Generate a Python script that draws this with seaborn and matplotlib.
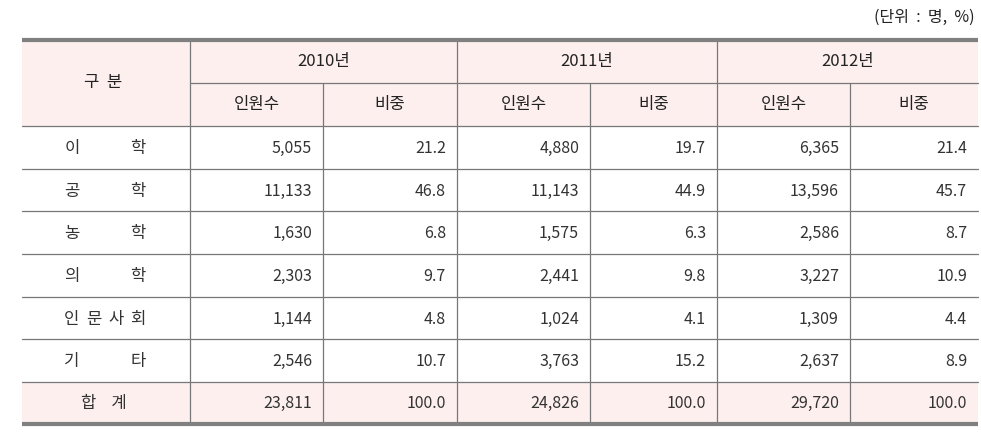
import matplotlib
matplotlib.use("Agg")
import matplotlib.pyplot as plt
import seaborn as sns
import pandas as pd

# ---- data ----
categories = ["이학", "공학", "농학", "의학", "인문사회", "기타"]
years = ["2010년", "2011년", "2012년"]
sub_headers = ["인원수", "비중"]
count_2010 = [5055, 11133, 1630, 2303, 1144, 2546]
share_2010 = [21.2, 46.8, 6.8, 9.7, 4.8, 10.7]
count_2011 = [4880, 11143, 1575, 2441, 1024, 3763]
share_2011 = [19.7, 44.9, 6.3, 9.8, 4.1, 15.2]
count_2012 = [6365, 13596, 2586, 3227, 1309, 2637]
share_2012 = [21.4, 45.7, 8.7, 10.9, 4.4, 8.9]
total_label = "합  계"
total_counts = [23811, 24826, 29720]
total_shares = [100.0, 100.0, 100.0]
corner_label = "구 분"
unit_label = "(단위 : 명, %)"

sns.set_theme(style="white")
plt.rcParams["font.family"] = ["Noto Sans CJK KR", "DejaVu Sans"]

df = pd.DataFrame({
    "cat": categories,
    "c2010": count_2010, "s2010": share_2010,
    "c2011": count_2011, "s2011": share_2011,
    "c2012": count_2012, "s2012": share_2012,
})

fig = plt.figure(figsize=(9.81, 4.44), dpi=100)
ax = fig.add_axes([0, 0, 1, 1])
ax.set_xlim(0, 981)
ax.set_ylim(444, 0)
ax.axis("off")

# layout (pixels)
col_edges = [22, 190, 323, 457, 590, 717, 850, 978]
top = 40
h1 = 83
h2 = 126
row_h = 42.67
n = len(categories)
body_bottom = h2 + n * row_h
bottom = 424

header_bg = "#fcefee"
line_c = "#777777"
thick_c = "#808080"
txt_c = "#222222"
num_c = "#333333"

# backgrounds
ax.add_patch(plt.Rectangle((col_edges[0], top), col_edges[-1] - col_edges[0], h2 - top,
                           facecolor=header_bg, edgecolor="none", zorder=0))
ax.add_patch(plt.Rectangle((col_edges[0], body_bottom), col_edges[-1] - col_edges[0], bottom - body_bottom,
                           facecolor=header_bg, edgecolor="none", zorder=0))

# horizontal lines
ax.plot([col_edges[1], col_edges[-1]], [h1, h1], color=line_c, lw=0.9)
ax.plot([col_edges[0], col_edges[-1]], [h2, h2], color=line_c, lw=0.9)
for i in range(1, n + 1):
    y = h2 + i * row_h
    ax.plot([col_edges[0], col_edges[-1]], [y, y], color=line_c, lw=0.9)
# vertical lines
for j, x in enumerate(col_edges[1:-1], start=1):
    y0 = top if j in (1, 3, 5) else h1
    ax.plot([x, x], [y0, bottom], color=line_c, lw=0.9)
# thick top / bottom
ax.plot([col_edges[0], col_edges[-1]], [top, top], color=thick_c, lw=3.0, solid_capstyle="butt")
ax.plot([col_edges[0], col_edges[-1]], [bottom, bottom], color=thick_c, lw=3.0, solid_capstyle="butt")

fs_h = 12
fs_d = 11.5

# unit label
ax.text(975, 17, unit_label.replace(" ", "  "), ha="right", va="center", fontsize=11.5, color=txt_c)

# header
ax.text(103, (top + h2) / 2, corner_label.replace(" ", "  "), ha="center", va="center", fontsize=fs_h, color=txt_c)
for k, yr in enumerate(years):
    xl, xr = col_edges[1 + 2 * k], col_edges[3 + 2 * k]
    ax.text((xl + xr) / 2, (top + h1) / 2, yr, ha="center", va="center", fontsize=fs_h, color=txt_c)
    for m, sh in enumerate(sub_headers):
        a, b = col_edges[1 + 2 * k + m], col_edges[2 + 2 * k + m]
        ax.text((a + b) / 2, (h1 + h2) / 2, sh, ha="center", va="center", fontsize=fs_h, color=txt_c)

# body
lab_x0, lab_x1 = 72, 138
value_cols = ["c2010", "s2010", "c2011", "s2011", "c2012", "s2012"]
for i, row in df.iterrows():
    yc = h2 + (i + 0.5) * row_h + 1
    chars = list(row["cat"])
    if len(chars) == 1:
        ax.text((lab_x0 + lab_x1) / 2, yc, chars[0], ha="center", va="center", fontsize=fs_h, color=num_c)
    else:
        step = (lab_x1 - lab_x0) / (len(chars) - 1)
        for q, ch in enumerate(chars):
            ax.text(lab_x0 + q * step, yc, ch, ha="center", va="center", fontsize=fs_h, color=num_c)
    for j, c in enumerate(value_cols):
        v = row[c]
        s = f"{int(v):,}" if c.startswith("c") else f"{v:.1f}"
        ax.text(col_edges[2 + j] - 11, yc, s, ha="right", va="center", fontsize=fs_d, color=num_c)

# total row
yc = (body_bottom + bottom) / 2
ax.text(104, yc, total_label.replace("  ", "    "), ha="center", va="center", fontsize=fs_h, color=num_c)
for k in range(3):
    ax.text(col_edges[2 + 2 * k] - 11, yc, f"{total_counts[k]:,}", ha="right", va="center", fontsize=fs_d, color=num_c)
    ax.text(col_edges[3 + 2 * k] - 11, yc, f"{total_shares[k]:.1f}", ha="right", va="center", fontsize=fs_d, color=num_c)

fig.savefig("out.png", dpi=100, facecolor="white")
